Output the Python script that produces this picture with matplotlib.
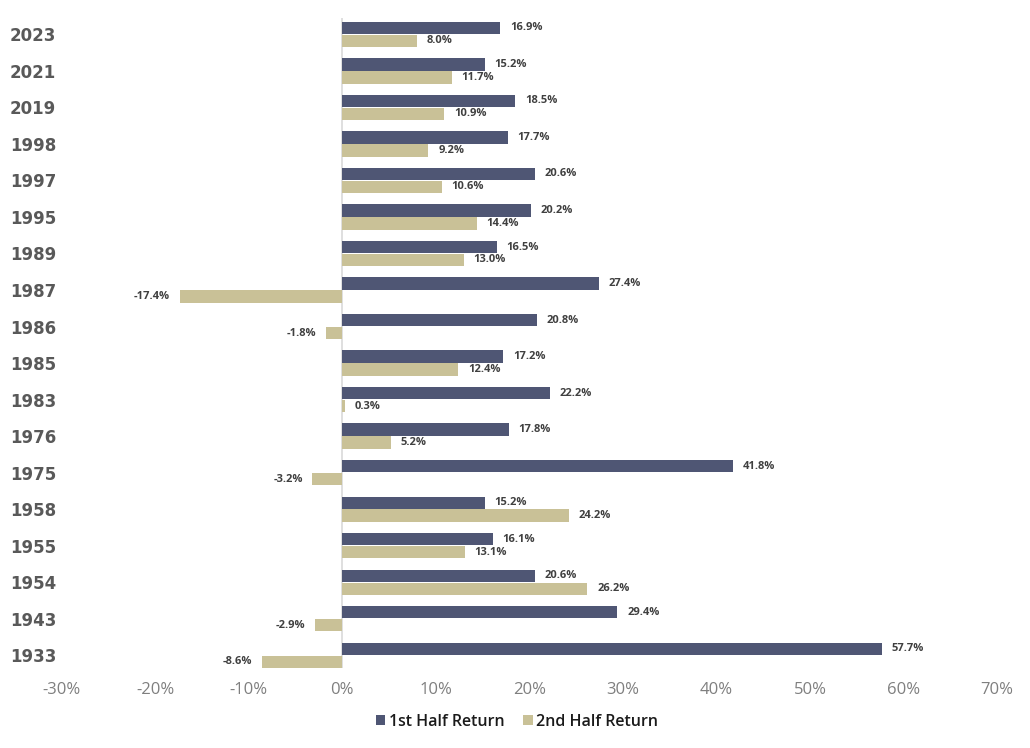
import matplotlib
matplotlib.use("Agg")
import matplotlib.pyplot as plt
import numpy as np

years = ["2023", "2021", "2019", "1998", "1997", "1995", "1989", "1987", "1986",
         "1985", "1983", "1976", "1975", "1958", "1955", "1954", "1943", "1933"]
first_half = [16.9, 15.2, 18.5, 17.7, 20.6, 20.2, 16.5, 27.4, 20.8,
              17.2, 22.2, 17.8, 41.8, 15.2, 16.1, 20.6, 29.4, 57.7]
second_half = [8.0, 11.7, 10.9, 9.2, 10.6, 14.4, 13.0, -17.4, -1.8,
               12.4, 0.3, 5.2, -3.2, 24.2, 13.1, 26.2, -2.9, -8.6]
series_names = ["1st Half Return", "2nd Half Return"]
xticks = [-30, -20, -10, 0, 10, 20, 30, 40, 50, 60, 70]

c1 = "#4f5674"
c2 = "#c9c197"

plt.rcParams['font.family'] = ['Open Sans', 'DejaVu Sans']

fig = plt.figure(figsize=(10.3, 7.48), dpi=100)
ax = fig.add_axes([0.060, 0.107, 0.908, 0.869])

y = np.arange(len(years))
h = 0.335
b1 = ax.barh(y - h / 2 - 0.01, first_half, height=h, color=c1, label=series_names[0])
b2 = ax.barh(y + h / 2 + 0.01, second_half, height=h, color=c2, label=series_names[1])

for bars, vals in ((b1, first_half), (b2, second_half)):
    for rect, v in zip(bars, vals):
        yc = rect.get_y() + rect.get_height() / 2
        if v >= 0:
            ax.annotate(f"{v:.1f}%", (v, yc), xytext=(7, 0), textcoords="offset points",
                        ha="left", va="center", fontsize=8, fontweight="bold", color="#404040")
        else:
            ax.annotate(f"{v:.1f}%", (v, yc), xytext=(-7, 0), textcoords="offset points",
                        ha="right", va="center", fontsize=8, fontweight="bold", color="#404040")

ax.set_xlim(-30, 70)
ax.set_ylim(len(years) - 0.65, -0.45)
ax.set_xticks(xticks)
ax.set_xticklabels([f"{t}%" for t in xticks], color="#7f7f7f", fontsize=12)
ax.set_yticks(y)
ax.set_yticklabels(years, fontsize=12, fontweight="bold", color="#595959",
                   family=['DejaVu Sans'])
ax.tick_params(axis="both", length=0)
ax.tick_params(axis="x", pad=10)
ax.tick_params(axis="y", pad=4)
for s in ("top", "right", "bottom", "left"):
    ax.spines[s].set_visible(False)
ax.axvline(0, color="#d9d9d9", lw=1.2, zorder=0)

leg = fig.legend(handles=[b1, b2], loc="center", bbox_to_anchor=(0.502, 0.035), ncol=2,
                 frameon=False, fontsize=11.5, handlelength=0.6, handleheight=0.6,
                 handletextpad=0.2, columnspacing=1.2)
for t in leg.get_texts():
    t.set_fontweight("semibold")
    t.set_color("#1a1a1a")

fig.savefig("out.png", dpi=100)
